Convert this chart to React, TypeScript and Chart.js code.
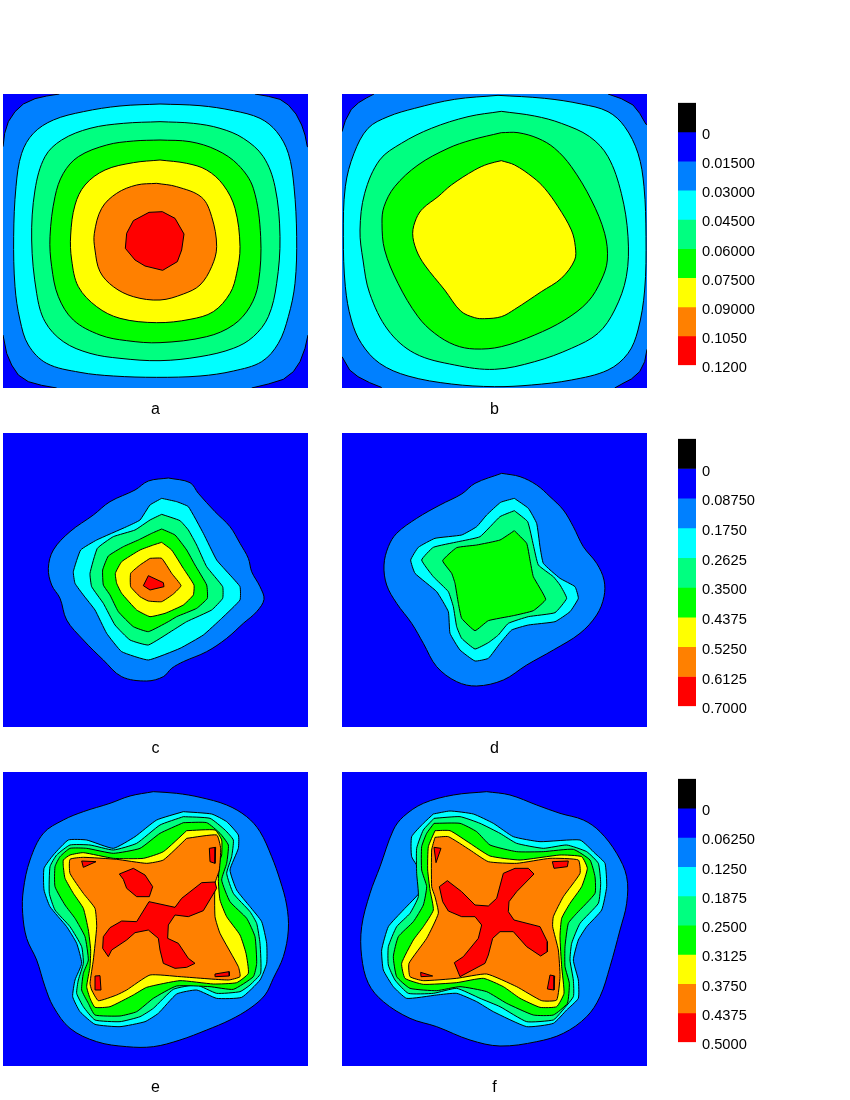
import React, { useEffect, useRef } from "react";
import { Chart, registerables } from "chart.js";

Chart.register(...registerables);

type Pt = [number, number];

const BLACK = "#000000";
const BLUE = "#0000ff";
const AZURE = "#0080ff";
const CYAN = "#00ffff";
const SPRING = "#00ff80";
const GREEN = "#00ff00";
const YELLOW = "#ffff00";
const ORANGE = "#ff8000";
const RED = "#ff0000";
const barColors = [BLACK, BLUE, AZURE, CYAN, SPRING, GREEN, YELLOW, ORANGE, RED];

// Colour scales
const scaleTopValues = [0, 0.015, 0.03, 0.045, 0.06, 0.075, 0.09, 0.105, 0.12];
const scaleTopLabels = ["0", "0.01500", "0.03000", "0.04500", "0.06000", "0.07500", "0.09000", "0.1050", "0.1200"];
const scaleMidValues = [0, 0.0875, 0.175, 0.2625, 0.35, 0.4375, 0.525, 0.6125, 0.7];
const scaleMidLabels = ["0", "0.08750", "0.1750", "0.2625", "0.3500", "0.4375", "0.5250", "0.6125", "0.7000"];
const scaleLowValues = [0, 0.0625, 0.125, 0.1875, 0.25, 0.3125, 0.375, 0.4375, 0.5];
const scaleLowLabels = ["0", "0.06250", "0.1250", "0.1875", "0.2500", "0.3125", "0.3750", "0.4375", "0.5000"];

// Panel a contours
const aAzure: Pt[] = [[-30,170],[9,170],[14,130],[25,95],[45,65],[70,42],[105,26],[140,18],[178,12],[178,-30],[765,-30],[765,12],[805,19],[840,28],[865,45],[888,72],[905,105],[915,135],[922,170],[960,170],[960,735],[924,735],[915,775],[900,815],[880,845],[850,868],[805,882],[755,894],[755,930],[170,930],[170,894],[125,886],[85,875],[55,855],[35,825],[20,790],[9,735],[-30,735]];
const aCyan: Pt[] = [[480,42],[600,47],[700,62],[780,85],[830,125],[865,190],[882,290],[890,440],[885,580],[865,680],[835,760],[785,815],[700,843],[600,858],[470,862],[340,858],[240,847],[140,820],[85,765],[60,690],[45,590],[41,440],[48,290],[65,190],[100,130],[160,90],[250,65],[360,48]];
const aSpring: Pt[] = [[480,95],[580,100],[660,115],[730,145],[790,200],[825,290],[840,440],[830,580],[805,680],[760,740],[700,775],[600,800],[480,812],[360,805],[270,790],[190,755],[135,695],[110,610],[95,450],[105,300],[135,200],[185,150],[270,115],[370,100]];
const aGreen: Pt[] = [[480,150],[570,155],[650,180],[715,225],[760,295],[782,440],[775,580],[750,650],[700,705],[620,740],[480,758],[380,752],[300,735],[220,690],[175,620],[155,530],[150,440],[165,320],[190,250],[235,200],[320,165],[400,153]];
const aYellow: Pt[] = [[480,210],[560,220],[620,240],[670,285],[705,355],[720,470],[710,550],[690,610],[640,665],[570,688],[470,698],[360,685],[290,650],[235,590],[215,510],[212,435],[225,345],[255,285],[315,240],[400,218]];
const aOrange: Pt[] = [[470,280],[530,290],[605,322],[635,380],[650,470],[635,530],[600,585],[550,612],[480,630],[400,620],[340,590],[300,545],[285,480],[283,430],[305,355],[350,310],[410,285]];
const aRed: Pt[] = [[447,367],[487,365],[525,385],[552,432],[545,480],[532,515],[488,541],[435,528],[405,510],[376,475],[380,430],[400,392]];

// Panel b contours
const bAzure: Pt[] = [[-30,125],[12,125],[22,92],[40,58],[62,38],[85,24],[108,12],[108,-30],[810,-30],[810,12],[850,26],[885,45],[905,70],[924,103],[960,103],[960,778],[927,778],[920,815],[905,845],[880,867],[855,880],[830,894],[830,930],[130,930],[130,892],[95,878],[60,860],[35,840],[12,800],[-30,800]];
const bCyan: Pt[] = [[480,16],[620,25],[730,42],[810,65],[860,110],[900,190],[918,290],[924,440],[920,600],[900,720],[870,790],[810,840],[700,870],[580,885],[470,890],[340,882],[210,858],[125,820],[70,760],[40,690],[22,590],[16,440],[22,290],[48,190],[90,115],[150,80],[230,55],[350,28]];
const bSpring: Pt[] = [[490,64],[590,78],[670,100],[755,140],[810,200],[850,310],[870,440],[865,560],[830,660],[780,730],[700,775],[590,815],[470,838],[350,825],[230,790],[150,720],[95,610],[75,510],[66,420],[80,310],[125,210],[190,160],[280,115],[390,80]];
const bGreen: Pt[] = [[490,128],[540,128],[600,145],[650,175],[700,230],[760,330],[800,430],[808,510],[790,570],[750,635],[680,690],[590,735],[490,770],[410,777],[350,765],[290,730],[240,680],[180,580],[140,480],[132,400],[138,350],[170,290],[240,225],[330,175],[400,150]];
const bYellow: Pt[] = [[490,212],[530,225],[585,262],[620,295],[660,350],[700,420],[712,470],[710,510],[670,565],[610,605],[530,658],[490,680],[440,686],[410,683],[368,663],[320,600],[260,525],[235,480],[224,430],[235,385],[255,355],[300,320],[340,285],[410,240],[450,222]];

// Panel c contours
const cAzure: Pt[] = [[385,24],[450,38],[475,70],[525,125],[570,170],[600,220],[625,265],[635,305],[660,350],[672,388],[650,425],[610,460],[560,505],[500,545],[430,575],[395,595],[370,620],[320,633],[245,620],[190,570],[130,510],[80,450],[60,385],[35,345],[25,295],[40,240],[90,185],[160,135],[210,95],[285,60],[325,33]];
const cCyan: Pt[] = [[365,85],[410,95],[445,110],[490,190],[530,270],[570,315],[600,350],[600,390],[545,445],[490,495],[420,535],[325,570],[245,545],[200,490],[165,420],[130,375],[105,340],[100,305],[122,240],[170,210],[260,170],[300,150],[330,105]];
const cSpring: Pt[] = [[365,133],[420,152],[445,180],[470,225],[500,290],[548,350],[548,385],[515,420],[440,455],[400,480],[325,525],[270,510],[225,465],[190,400],[155,350],[150,310],[172,235],[220,200],[285,180],[330,150]];
const cGreen: Pt[] = [[365,177],[405,195],[440,240],[465,285],[500,345],[502,385],[470,415],[410,440],[385,455],[325,485],[280,470],[235,425],[210,375],[190,345],[188,300],[205,258],[250,230],[295,210],[335,190]];
const cYellow: Pt[] = [[365,217],[395,240],[430,295],[462,345],[460,375],[430,405],[375,430],[330,440],[290,420],[245,370],[230,340],[226,310],[245,275],[300,240],[340,225]];
const cOrange: Pt[] = [[330,265],[365,265],[395,310],[423,347],[400,372],[365,395],[325,393],[300,380],[272,350],[272,310],[300,285]];
const cRed: Pt[] = [[325,317],[370,338],[372,350],[330,360],[310,347]];

// Panel d contours
const dAzure: Pt[] = [[365,10],[420,20],[470,45],[510,80],[550,120],[580,170],[610,230],[650,280],[672,330],[672,380],[650,435],[600,490],[520,540],[440,585],[370,630],[290,648],[230,635],[170,590],[130,520],[95,460],[50,400],[20,345],[12,285],[25,230],[50,190],[110,145],[180,105],[245,72],[285,40]];
const dCyan: Pt[] = [[403,85],[445,115],[470,160],[480,230],[490,280],[540,325],[585,350],[595,385],[570,425],[525,455],[445,465],[395,480],[360,520],[325,565],[285,573],[240,540],[210,490],[205,425],[170,365],[105,310],[92,270],[115,232],[165,205],[245,195],[290,170],[320,135],[362,97]];
const dSpring: Pt[] = [[403,122],[443,155],[460,225],[475,285],[520,320],[540,345],[560,385],[525,428],[445,440],[385,460],[355,495],[325,518],[285,537],[245,505],[230,470],[220,410],[205,365],[160,320],[125,270],[160,232],[235,215],[300,200],[360,140]];
const dGreen: Pt[] = [[403,182],[440,220],[450,270],[460,320],[497,388],[460,422],[400,437],[325,452],[285,482],[245,445],[235,400],[225,340],[215,310],[188,272],[230,233],[290,225],[360,210]];

// Panel e contours
const eAzure: Pt[] = [[400,5],[470,10],[540,22],[620,45],[680,80],[720,125],[755,200],[780,270],[800,345],[805,420],[790,500],[760,565],[735,615],[690,655],[630,690],[560,720],[480,750],[400,770],[320,770],[230,755],[150,715],[100,650],[75,590],[50,510],[20,445],[8,370],[10,300],[30,210],[70,130],[130,90],[190,65],[270,40],[330,18]];
const eCyan: Pt[] = [[490,65],[575,72],[620,95],[655,135],[655,175],[630,240],[650,300],[690,350],[725,395],[740,460],[740,520],[720,570],[665,622],[590,625],[530,600],[470,612],[415,670],[375,695],[300,710],[225,703],[180,665],[158,620],[165,570],[185,520],[170,460],[140,410],[90,350],[72,300],[72,235],[100,195],[145,150],[200,150],[280,175],[345,140],[410,90]];
const eSpring: Pt[] = [[490,80],[570,85],[615,120],[640,150],[635,200],[620,250],[640,310],[690,365],[710,400],[720,460],[722,550],[690,585],[660,605],[590,610],[530,585],[460,598],[400,655],[360,680],[300,695],[225,690],[190,650],[170,610],[175,570],[190,520],[185,470],[150,410],[105,360],[88,310],[90,230],[110,195],[150,165],[210,165],[280,180],[350,160],[420,105]];
const eGreen: Pt[] = [[490,98],[560,98],[600,130],[625,165],[620,220],[605,270],[630,335],[680,385],[705,440],[710,520],[700,560],[640,598],[570,590],[470,588],[400,625],[350,665],[300,678],[225,675],[205,640],[185,600],[190,550],[205,510],[195,440],[165,385],[135,345],[105,290],[105,230],[120,200],[150,175],[200,175],[280,190],[360,175],[420,130]];
const eYellow: Pt[] = [[500,122],[585,120],[605,150],[605,195],[600,210],[595,270],[600,330],[620,380],[660,435],[678,490],[685,550],[650,578],[580,582],[480,572],[380,592],[340,615],[270,650],[225,652],[210,625],[200,590],[210,530],[212,480],[205,420],[190,355],[160,310],[135,265],[130,230],[130,210],[150,195],[190,188],[280,205],[370,205],[430,185]];
const eOrange: Pt[] = [[500,145],[590,135],[602,175],[598,240],[585,280],[585,380],[600,430],[655,530],[660,560],[625,570],[480,560],[390,555],[320,600],[290,615],[235,632],[215,600],[210,580],[220,510],[230,410],[225,355],[190,310],[150,250],[150,208],[190,202],[290,208],[380,220],[430,210]];
const eRedMain: Pt[] = [[387,335],[465,352],[485,325],[545,278],[585,276],[590,295],[550,362],[505,380],[465,375],[445,405],[443,445],[475,460],[505,505],[525,520],[500,532],[465,535],[430,520],[420,480],[415,445],[385,420],[345,428],[320,450],[275,480],[265,500],[248,475],[250,440],[270,413],[305,393],[350,395]];
const eRedIsland: Pt[] = [[298,252],[340,235],[375,255],[398,290],[388,320],[350,320],[320,295],[310,268]];
const eRedTL: Pt[] = [[185,213],[228,215],[190,232]];
const eRedTR: Pt[] = [[568,175],[587,172],[585,220],[570,215]];
const eRedBL: Pt[] = [[225,558],[240,557],[243,600],[227,600]];
const eRedBR: Pt[] = [[585,552],[627,545],[628,558],[587,560]];

// Panel f contours
const fAzure: Pt[] = [[380,5],[450,15],[530,45],[600,70],[670,90],[720,125],[770,190],[800,260],[800,340],[780,420],[750,530],[720,620],[680,680],[610,730],[530,755],[420,768],[330,750],[230,710],[150,685],[70,635],[25,580],[5,500],[5,410],[30,310],[60,230],[100,120],[130,80],[190,40],[280,15]];
const fCyan: Pt[] = [[220,72],[270,63],[340,72],[400,100],[460,140],[540,155],[660,150],[705,190],[735,220],[740,290],[725,360],[680,410],[655,450],[640,510],[655,570],[655,625],[620,660],[580,700],[500,710],[400,665],[350,635],[290,610],[230,615],[140,625],[100,590],[70,540],[65,480],[85,410],[130,360],[185,300],[185,250],[155,200],[155,140],[190,100]];
const fSpring: Pt[] = [[222,85],[300,80],[360,100],[420,130],[470,160],[550,175],[620,165],[680,185],[715,220],[722,280],[715,340],[660,400],[635,460],[630,510],[640,570],[640,620],[600,670],[580,690],[500,695],[420,650],[360,625],[290,595],[220,610],[145,610],[105,570],[85,525],[85,470],[110,410],[150,370],[175,320],[170,250],[170,175],[190,120]];
const fGreen: Pt[] = [[222,100],[300,100],[350,125],[390,165],[470,185],[550,185],[640,178],[690,210],[705,260],[705,310],[650,370],[625,400],[615,470],[615,530],[628,580],[622,640],[580,675],[520,675],[440,640],[380,605],[300,590],[230,602],[150,595],[110,560],[100,500],[115,440],[160,395],[190,345],[200,290],[185,240],[185,170],[200,130]];
const fYellow: Pt[] = [[225,122],[270,122],[330,160],[390,198],[480,210],[600,195],[665,200],[682,235],[665,290],[630,340],[605,385],[600,440],[605,530],[612,610],[590,650],[540,652],[480,625],[430,590],[370,565],[290,578],[190,583],[135,565],[125,520],[160,450],[190,410],[220,360],[210,300],[203,240],[205,170]];
const fOrange: Pt[] = [[225,142],[265,140],[330,180],[385,215],[470,220],[570,205],[655,210],[660,250],[610,320],[580,380],[578,410],[595,480],[600,560],[590,630],[545,632],[470,590],[380,552],[290,565],[190,572],[150,560],[147,520],[200,445],[235,370],[225,320],[215,290],[215,180]];
const fRedMain: Pt[] = [[262,272],[305,305],[345,345],[385,348],[410,325],[430,250],[465,235],[505,235],[522,252],[470,305],[447,335],[445,365],[462,390],[540,410],[562,455],[562,485],[542,498],[500,470],[460,425],[420,425],[398,445],[385,495],[375,520],[300,560],[283,518],[310,500],[355,445],[365,405],[345,380],[305,380],[265,363],[248,335],[238,290]];
const fRedTL: Pt[] = [[222,172],[243,175],[228,218]];
const fRedTR: Pt[] = [[577,215],[625,213],[622,230],[582,235]];
const fRedBL: Pt[] = [[182,547],[218,558],[183,560]];
const fRedBR: Pt[] = [[570,555],[584,558],[582,600],[562,597]];

type Layer = { color: string; points: Pt[]; tension?: number };
type PanelSpec = {
  label: string; left: number; top: number;
  xMin: number; xMax: number; yMin: number; yMax: number;
  base: string; soft: number; layers: Layer[];
};

const panels: PanelSpec[] = [
  { label: "a", left: 3, top: 94, xMin: 9, xMax: 924, yMin: 12, yMax: 894, base: BLUE, soft: 0.35, layers: [
    { color: AZURE, points: aAzure, tension: 0 }, { color: CYAN, points: aCyan }, { color: SPRING, points: aSpring },
    { color: GREEN, points: aGreen }, { color: YELLOW, points: aYellow }, { color: ORANGE, points: aOrange }, { color: RED, points: aRed },
  ] },
  { label: "b", left: 342, top: 94, xMin: 12, xMax: 927, yMin: 12, yMax: 894, base: BLUE, soft: 0.35, layers: [
    { color: AZURE, points: bAzure, tension: 0 }, { color: CYAN, points: bCyan }, { color: SPRING, points: bSpring },
    { color: GREEN, points: bGreen }, { color: YELLOW, points: bYellow },
  ] },
  { label: "c", left: 3, top: 433, xMin: -111, xMax: 804, yMin: -111, yMax: 771, base: BLUE, soft: 0.12, layers: [
    { color: AZURE, points: cAzure, tension: 0.35 }, { color: CYAN, points: cCyan }, { color: SPRING, points: cSpring },
    { color: GREEN, points: cGreen }, { color: YELLOW, points: cYellow }, { color: ORANGE, points: cOrange }, { color: RED, points: cRed },
  ] },
  { label: "d", left: 342, top: 433, xMin: -114, xMax: 801, yMin: -111, yMax: 771, base: BLUE, soft: 0.12, layers: [
    { color: AZURE, points: dAzure, tension: 0.35 }, { color: CYAN, points: dCyan }, { color: SPRING, points: dSpring }, { color: GREEN, points: dGreen },
  ] },
  { label: "e", left: 3, top: 772, xMin: -51, xMax: 864, yMin: -54, yMax: 828, base: BLUE, soft: 0.15, layers: [
    { color: AZURE, points: eAzure, tension: 0.35 }, { color: CYAN, points: eCyan }, { color: SPRING, points: eSpring },
    { color: GREEN, points: eGreen }, { color: YELLOW, points: eYellow }, { color: ORANGE, points: eOrange },
    { color: RED, points: eRedMain }, { color: RED, points: eRedIsland }, { color: RED, points: eRedTL },
    { color: RED, points: eRedTR }, { color: RED, points: eRedBL }, { color: RED, points: eRedBR },
  ] },
  { label: "f", left: 342, top: 772, xMin: -54, xMax: 861, yMin: -54, yMax: 828, base: BLUE, soft: 0.15, layers: [
    { color: AZURE, points: fAzure, tension: 0.35 }, { color: CYAN, points: fCyan }, { color: SPRING, points: fSpring },
    { color: GREEN, points: fGreen }, { color: YELLOW, points: fYellow }, { color: ORANGE, points: fOrange },
    { color: RED, points: fRedMain }, { color: RED, points: fRedTL }, { color: RED, points: fRedTR },
    { color: RED, points: fRedBL }, { color: RED, points: fRedBR },
  ] },
];

const colorbars = [
  { barTop: 103, barBottom: 365, values: scaleTopValues, labels: scaleTopLabels },
  { barTop: 439, barBottom: 706, values: scaleMidValues, labels: scaleMidLabels },
  { barTop: 779, barBottom: 1042, values: scaleLowValues, labels: scaleLowLabels },
];

const FONT = "'Liberation Sans', Arial, sans-serif";
const PANEL_W = 305;
const PANEL_H = 294;
const CAPTION_H = 32;
const BAR_LEFT = 678;
const BAR_W = 18;
const AXIS_W = 82;
const PAD_TOP = 10;
const PAD_BOTTOM = 14;
const INSET_TOP = 15;
const INSET_BOTTOM = 15;

function Panel({ spec }: { spec: PanelSpec }) {
  const ref = useRef<HTMLCanvasElement>(null);
  useEffect(() => {
    const close = (p: Pt[]) => [...p, p[0]].map(([x, y]) => ({ x, y }));
    const frame: Pt[] = [[spec.xMin - 30, spec.yMin - 30], [spec.xMax + 30, spec.yMin - 30], [spec.xMax + 30, spec.yMax + 30], [spec.xMin - 30, spec.yMax + 30]];
    const all: Layer[] = [{ color: spec.base, points: frame, tension: 0 }, ...spec.layers];
    const chart = new Chart(ref.current!, {
      type: "scatter",
      data: {
        datasets: all.map((l, i) => ({
          data: close(l.points),
          showLine: true,
          fill: "shape",
          backgroundColor: l.color,
          borderColor: "#000000",
          borderWidth: 1,
          pointRadius: 0,
          tension: l.color === RED ? 0 : l.tension ?? spec.soft,
          capBezierPoints: false,
          clip: 0,
          order: -i,
        })),
      } as any,
      options: {
        responsive: false,
        animation: false,
        layout: { padding: 0, autoPadding: false },
        plugins: { legend: { display: false }, tooltip: { enabled: false } },
        scales: {
          x: {
            type: "linear", min: spec.xMin, max: spec.xMax,
            grid: { display: false, drawTicks: false }, border: { display: false },
            ticks: { display: false },
            title: { display: true, text: spec.label, color: "#000000", font: { family: FONT, size: 16, lineHeight: 1.25 }, padding: { top: 12, bottom: 0 } },
          },
          y: { type: "linear", display: false, reverse: true, min: spec.yMin, max: spec.yMax },
        },
      } as any,
    });
    return () => chart.destroy();
  }, [spec]);
  return (
    <canvas ref={ref} width={PANEL_W} height={PANEL_H + CAPTION_H}
      style={{ position: "absolute", left: spec.left, top: spec.top, display: "block" }} />
  );
}

function Colorbar({ spec }: { spec: (typeof colorbars)[number] }) {
  const ref = useRef<HTMLCanvasElement>(null);
  useEffect(() => {
    const step = spec.values[1] - spec.values[0];
    const edges = [spec.values[0] - step, ...spec.values];
    const chart = new Chart(ref.current!, {
      type: "bar",
      data: {
        labels: [""],
        datasets: barColors.map((c, i) => ({
          data: [[edges[i], edges[i + 1]]],
          backgroundColor: c,
          borderWidth: 0,
          grouped: false,
          barPercentage: 1,
          categoryPercentage: 1,
        })),
      } as any,
      options: {
        responsive: false,
        animation: false,
        layout: { padding: { top: PAD_TOP, bottom: PAD_BOTTOM, left: 0, right: 0 }, autoPadding: false },
        plugins: { legend: { display: false }, tooltip: { enabled: false } },
        scales: {
          x: { display: false, grid: { display: false } },
          y: {
            type: "linear", position: "right", reverse: true,
            min: edges[0], max: spec.values[spec.values.length - 1],
            grid: { display: false, drawTicks: false }, border: { display: false },
            afterBuildTicks: (s: any) => { s.ticks = spec.values.map((value) => ({ value })); },
            afterFit: (s: any) => { s.width = AXIS_W; },
            ticks: {
              autoSkip: false, padding: 6, labelOffset: 3, color: "#000000",
              font: { family: FONT, size: 14.67 },
              callback: (_v: any, i: number) => spec.labels[i],
            },
          },
        },
      } as any,
    });
    return () => chart.destroy();
  }, [spec]);
  return (
    <canvas ref={ref} width={BAR_W + AXIS_W} height={spec.barBottom - spec.barTop + INSET_TOP + INSET_BOTTOM}
      style={{ position: "absolute", left: BAR_LEFT, top: spec.barTop - INSET_TOP, display: "block" }} />
  );
}

export default function App() {
  return (
    <div style={{ position: "absolute", left: 0, top: 0, width: 850, height: 1100, background: "#ffffff" }}>
      {panels.map((p) => <Panel key={p.label} spec={p} />)}
      {colorbars.map((c, i) => <Colorbar key={i} spec={c} />)}
    </div>
  );
}
